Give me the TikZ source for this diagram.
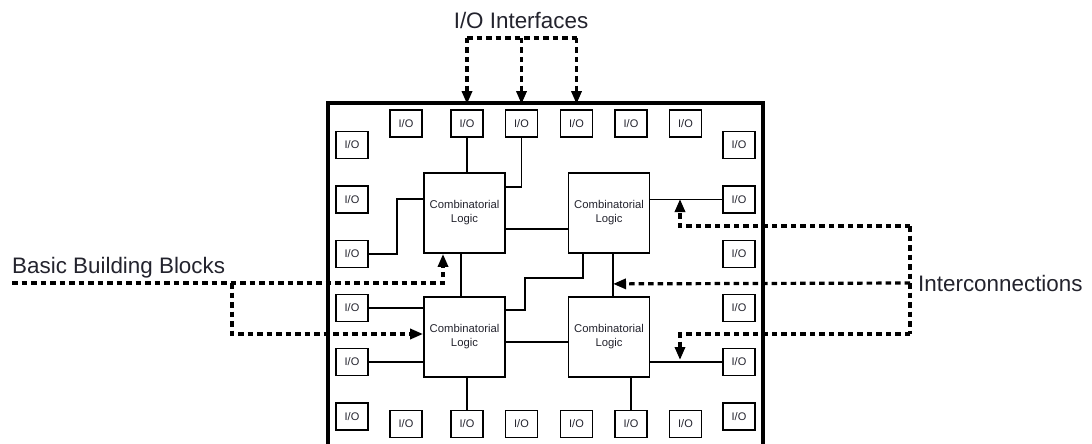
\documentclass[tikz,border=0pt]{standalone}
\usepackage{fontspec}
\setmainfont{Liberation Sans}
\usetikzlibrary{arrows.meta,calc}
\definecolor{txt}{RGB}{35,35,45}
\begin{document}
\begin{tikzpicture}[x=1pt,y=-1pt,
  iobox/.style={draw,line width=1.8pt,minimum width=32pt,minimum height=27pt,inner sep=0pt,
    font=\fontsize{11}{12}\selectfont,text=txt},
  logic/.style={draw,line width=1.8pt,minimum width=81pt,minimum height=80pt,inner sep=0pt,
    align=center,font=\fontsize{11.3}{14}\selectfont,text=txt},
  wire/.style={line width=1.7pt},
  hint/.style={line width=3.2pt,dash pattern=on 5.5pt off 4pt},
  hintarrow/.style={hint,-{Triangle[length=13pt,width=10pt]}},
  biglabel/.style={font=\fontsize{22.4}{26}\selectfont,text=txt,inner sep=0pt}]
\useasboundingbox (0,0) rectangle (1092,444);
% chip outline
\draw[line width=4pt] (328,450) |- (763,103) -- (763,450);
% I/O boxes
\foreach \n/\x in {1/406,2/467,3/521.5,4/576.5,5/631,6/685.5}{
  \node[iobox] (t\n) at (\x,123.5) {I/O};
  \node[iobox] (b\n) at (\x,424) {I/O};
}
\foreach \n/\y in {1/145,2/199.5,3/254,4/308,5/362,6/416.5}{
  \node[iobox] (l\n) at (352,\y) {I/O};
  \node[iobox] (r\n) at (739,\y) {I/O};
}
% logic blocks
\node[logic] (tl) at (464.5,213) {Combinatorial\\Logic};
\node[logic] (tr) at (609,213) {Combinatorial\\Logic};
\node[logic] (bl) at (464.5,337) {Combinatorial\\Logic};
\node[logic] (br) at (609,337) {Combinatorial\\Logic};
% wires
\draw[wire] (t2.south) -- (t2.south |- tl.north);
\draw[wire] (t3.south) |- ($(tl.north east)+(0,15)$);
\draw[wire] (l3.east) -- (397,254) |- ($(tl.west)+(0,-14)$);
\draw[wire] ($(tl.east)+(0,16)$) -- (tr.west |- 0,229);
\draw[wire] ($(tl.south)+(-3.5,0)$) -- ($(bl.north)+(-3.5,0)$);
\draw[wire] ($(tr.south)+(-26,0)$) |- (525,278) |- ($(bl.east)+(0,-27)$);
\draw[wire] ($(tr.south)+(4,0)$) -- ($(br.north)+(4,0)$);
\draw[wire] (r2.west) -- (r2.west -| tr.east);
\draw[wire] (l4.east) -- (l4.east -| bl.west);
\draw[wire] (l5.east) -- (l5.east -| bl.west);
\draw[wire] ($(bl.east)+(0,5)$) -- (br.west |- 0,342);
\draw[wire] (b2.north |- bl.south) -- (b2.north);
\draw[wire] (b5.north |- br.south) -- (b5.north);
\draw[wire] (r5.west) -- (r5.west -| br.east);
% I/O Interfaces
\node[biglabel] (ioi) at (521,20) {I/O Interfaces};
\coordinate (ia) at (t2.north |- 0,38);
\coordinate (ic) at (t4.north |- 0,38);
\coordinate (ib) at (t3.north |- 0,38);
\draw[hint] (ia) -- (ic);
\draw[hintarrow] (ia) -- ($(t2.north)+(0,-5)$);
\draw[hintarrow] (ib) -- ($(t3.north)+(0,-5)$);
\draw[hintarrow] (ic) -- ($(t4.north)+(0,-5)$);
% Basic Building Blocks
\node[biglabel,anchor=west] (bbb) at (12,268) {Basic Building Blocks};
\coordinate (bs) at (12,283);
\coordinate (bk) at (232,283);
\draw[hintarrow] (bs) -| ($(tl.south)+(-21.5,0)$);
\draw[hintarrow] (bk) |- ($(bl.west)+(0,-3)$);
% Interconnections
\node[biglabel,anchor=west] (icl) at (918,283) {Interconnections};
\coordinate (it) at (910,226);
\coordinate (im) at (910,283);
\coordinate (ib2) at (910,334);
\draw[hint] (it) -- (ib2);
\draw[hintarrow] (it) -| (680,199);
\draw[hintarrow] (im) -- ($(tr.south)+(4,30)$);
\draw[hintarrow] (ib2) -| (680,360);
\end{tikzpicture}
\end{document}
